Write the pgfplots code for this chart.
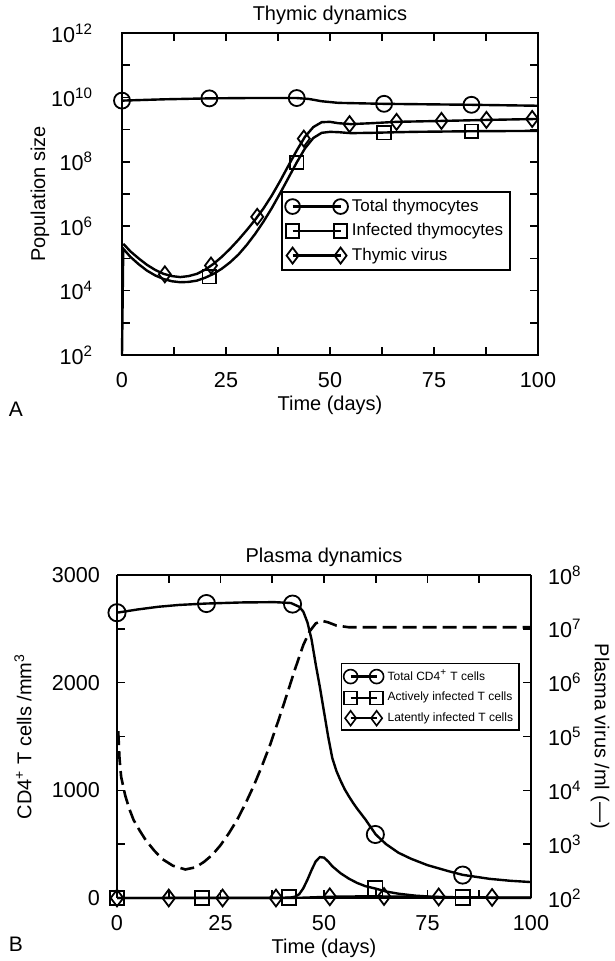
\documentclass[border=0pt]{standalone}
\usepackage{fontspec}
\setmainfont{Liberation Sans}
\usepackage{pgfplots}
\pgfplotsset{compat=1.18}

\pgfplotsset{
  every axis/.append style={
    scale only axis, clip=false,
    axis line style={line width=0.9pt},
    every tick/.style={black, line width=0.8pt},
    major tick length=4pt, minor tick length=4pt,
    tick label style={font=\fontsize{10.8}{12}\selectfont},
    label style={font=\fontsize{11}{13}\selectfont},
    title style={font=\fontsize{9}{11}\selectfont},
    every axis title/.style={at={(rel axis cs:0.5,1)}, yshift=9pt, anchor=center},
    every axis x label/.style={at={(rel axis cs:0.5,0)}, yshift=-25pt, anchor=center},
    xticklabel style={anchor=center, yshift=-12.5pt},
    xmin=0, xmax=100,
    xtick={0,25,50,75,100}, xticklabels={0,25,50,75,100},
    minor xtick={12.5,37.5,62.5,87.5},
  },
  curve/.style={black, line width=1.2pt, mark=none},
  dots/.style={black, only marks, mark size=4pt, mark options={line width=0.9pt}},
}

\begin{document}
\begin{tikzpicture}
\path[use as bounding box] (0,0) rectangle (307pt,-480.5pt);

% ---- A: thymic dynamics
\begin{axis}[
  at={(61pt,-177.5pt)}, anchor=south west, width=208pt, height=161pt,
  ymode=log, ymin=1e2, ymax=1e12,
  ytick={1e2,1e4,1e6,1e8,1e10,1e12},
  yticklabels={10\textsuperscript{2},10\textsuperscript{4},10\textsuperscript{6},10\textsuperscript{8},10\textsuperscript{10},10\textsuperscript{12}},
  minor ytick={1e3,1e5,1e7,1e9,1e11},
  yticklabel style={anchor=east, xshift=-11pt},
  every axis y label/.style={at={(rel axis cs:0,0.5)}, xshift=-41pt, rotate=90, anchor=center},
  title={Thymic dynamics}, xlabel={Time (days)}, ylabel={Population size},
  legend style={at={(0.935,0.509)}, anchor=north east, draw=black, line width=0.8pt,
    font=\fontsize{8.5}{10}\selectfont, inner sep=1.5pt, row sep=0.6pt},
  legend cell align=left,
  legend image code/.code={\draw[#1] plot coordinates {(0pt,0pt) (24pt,0pt)};},
]
\addlegendimage{curve, mark=o, mark size=3.7pt, mark options={line width=0.9pt}}
\addlegendentry{Total thymocytes}
\addlegendimage{curve, mark=square, mark size=3.4pt, mark options={line width=0.9pt}}
\addlegendentry{Infected thymocytes}
\addlegendimage{curve, mark=diamond, mark size=4pt, mark options={line width=0.9pt}}
\addlegendentry{Thymic virus}

% total thymocytes
\addplot[curve, forget plot] coordinates {
 (0,7.94e9) (10,8.71e9) (21,9.33e9) (30,9.55e9) (42,9.55e9) (45,8.91e9)
 (48,7.59e9) (52,6.76e9) (63,6.31e9) (84,5.89e9) (100,5.50e9)};
\addplot[dots, mark=o, forget plot] coordinates {
 (0,7.94e9) (21,9.33e9) (42,9.55e9) (63,6.31e9) (84,5.89e9)};

% infected thymocytes
\addplot[curve, forget plot] coordinates {
 (0,1e2) (0.3,2.0e5) (1,1.58e5) (2,1.12e5) (4,6.61e4) (6,4.17e4) (8,2.95e4)
 (10,2.29e4) (12,1.95e4) (14,1.82e4) (16,1.86e4) (18,2.04e4) (20,2.51e4)
 (22,3.31e4) (24,4.79e4) (26,7.59e4) (28,1.32e5) (30,2.63e5) (32,5.75e5)
 (34,1.38e6) (36,3.63e6) (38,1.05e7) (40,3.16e7) (42,9.55e7) (44,2.63e8)
 (46,5.50e8) (48,7.94e8) (50,8.51e8) (52,8.32e8) (55,7.76e8) (60,7.94e8)
 (70,8.51e8) (85,8.91e8) (100,9.12e8)};
\addplot[dots, mark=square, mark size=3.4pt, forget plot] coordinates {
 (21,2.7e4) (42,9.55e7) (63,8.0e8) (84,8.9e8)};

% thymic virus
\addplot[curve, forget plot] coordinates {
 (0.3,2.82e5) (1,2.29e5) (2,1.66e5) (4,1.0e5) (6,6.31e4) (8,4.37e4)
 (10,3.31e4) (12,2.82e4) (14,2.63e4) (16,2.82e4) (18,3.31e4) (20,4.47e4)
 (22,6.76e4) (24,1.12e5) (26,2.0e5) (28,3.80e5) (30,7.59e5) (32,1.58e6)
 (34,3.55e6) (36,8.91e6) (38,2.51e7) (40,7.59e7) (42,2.24e8) (44,6.03e8)
 (46,1.20e9) (48,1.70e9) (50,1.74e9) (52,1.58e9) (55,1.48e9) (60,1.58e9)
 (66,1.74e9) (77,1.86e9) (88,2.0e9) (100,2.14e9)};
\addplot[dots, mark=diamond, forget plot] coordinates {
 (10.3,3.2e4) (21.4,6.0e4) (32.5,1.95e6) (43.7,5.25e8) (54.7,1.48e9)
 (66,1.74e9) (76.8,1.86e9) (87.6,2.0e9) (98.6,2.14e9)};
\end{axis}

% ---- B: plasma dynamics, left axis
\begin{axis}[
  at={(58.5pt,-449pt)}, anchor=south west, width=207pt, height=161.5pt,
  axis y line*=left,
  ymin=0, ymax=3000,
  ytick={0,1000,2000,3000}, yticklabels={0,1000,2000,3000},
  minor ytick={500,1500,2500},
  yticklabel style={anchor=east, xshift=-5pt},
  every axis y label/.style={at={(rel axis cs:0,0.5)}, xshift=-47pt, rotate=90, anchor=center},
  title={Plasma dynamics}, xlabel={Time (days)},
  ylabel={CD4\textsuperscript{+} T cells /mm\textsuperscript{3}},
  legend style={at={(0.973,0.728)}, anchor=north east, draw=black, line width=0.8pt,
    font=\fontsize{6}{7}\selectfont, inner sep=1pt, row sep=0.3pt},
  legend cell align=left,
  legend image code/.code={\draw[#1] plot coordinates {(0pt,0pt) (13pt,0pt)};},
]
\addlegendimage{curve, mark=o, mark size=3.5pt, mark options={line width=0.8pt}}
\addlegendentry{Total CD4\textsuperscript{+} T cells}
\addlegendimage{curve, mark=square, mark size=3.2pt, mark options={line width=0.8pt}}
\addlegendentry{Actively infected T cells}
\addlegendimage{curve, mark=diamond, mark size=3.7pt, mark options={line width=0.8pt}}
\addlegendentry{Latently infected T cells}

% total CD4+ T cells
\addplot[curve, forget plot] coordinates {
 (0,2650) (5,2680) (10,2705) (15,2722) (21.6,2735) (30,2745) (38,2748)
 (42,2740) (44,2705) (45,2660) (46,2560) (47,2400) (48,2170) (49,1960)
 (50,1730) (51,1500) (52,1300) (53,1180) (54,1090) (55,1010) (56,945)
 (57,885) (58,830) (60,730) (62.5,590) (65,500) (68,420) (71,365) (75,305)
 (80,250) (83.5,215) (90,178) (95,160) (100,148)};
\addplot[dots, mark=o, mark size=4.3pt, forget plot] coordinates {
 (0,2650) (21.6,2735) (42.4,2730) (62.4,590) (83.5,213)};

% actively infected T cells
\addplot[curve, forget plot] coordinates {
 (0,0) (40,2) (42,5) (43,12) (44,35) (45,90) (46,170) (47,260) (48,340)
 (49,380) (50,375) (51,340) (52,295) (54,230) (56,180) (58,140) (60,110)
 (62.4,88) (65,60) (68,40) (72,22) (76,12) (80,7) (85,4) (90,2) (100,1)};
\addplot[dots, mark=square, mark size=3.6pt, forget plot] coordinates {
 (0,0) (20.5,0) (41.5,5) (62.4,90) (83.5,4)};

% latently infected T cells
\addplot[curve, forget plot] coordinates {
 (0,0) (40,0) (45,3) (50,10) (55,14) (60,15) (65,14) (75,10) (85,6) (100,3)};
\addplot[dots, mark=diamond, mark size=4.2pt, forget plot] coordinates {
 (0,0) (12.5,0) (25.5,0) (38.4,0) (51.4,11) (64.5,14) (77.7,10) (90.6,5)};
\end{axis}

% ---- B: plasma virus, right axis
\begin{axis}[
  at={(58.5pt,-449pt)}, anchor=south west, width=207pt, height=161.5pt,
  axis y line*=right, axis x line=none,
  ymode=log, ymin=1e2, ymax=1e8,
  ytick={1e2,1e3,1e4,1e5,1e6,1e7,1e8},
  yticklabels={10\textsuperscript{2},10\textsuperscript{3},10\textsuperscript{4},10\textsuperscript{5},10\textsuperscript{6},10\textsuperscript{7},10\textsuperscript{8}},
  yminorticks=false,
  yticklabel style={anchor=west, xshift=5pt},
  every axis y label/.style={at={(rel axis cs:1,0.5)}, xshift=34.5pt, rotate=-90, anchor=center},
  ylabel={Plasma virus /ml (---)},
]
\addplot[black, line width=1.3pt, dash pattern=on 7pt off 3pt] coordinates {
 (0.3,1.26e5) (0.6,3.98e4) (1,1.78e4) (2,7.94e3) (3,4.47e3) (4,2.82e3)
 (5.5,1.78e3) (7,1.17e3) (9,759) (11,525) (13.5,398) (16.5,339) (19,372)
 (21,468) (23,631) (25,955) (27,1585) (29,2818) (31,5623) (33,1.20e4)
 (35,2.82e4) (37,7.08e4) (39,2.0e5) (41,5.89e5) (43,1.78e6) (45,5.01e6)
 (46.5,8.91e6) (48,1.26e7) (49.5,1.41e7) (51,1.32e7) (53,1.15e7)
 (56,1.07e7) (60,1.07e7) (100,1.07e7)};
\end{axis}

\node[font=\fontsize{10.5}{12}\selectfont] at (8pt,-204.5pt) {A};
\node[font=\fontsize{10.5}{12}\selectfont] at (8pt,-472pt) {B};
\end{tikzpicture}
\end{document}
